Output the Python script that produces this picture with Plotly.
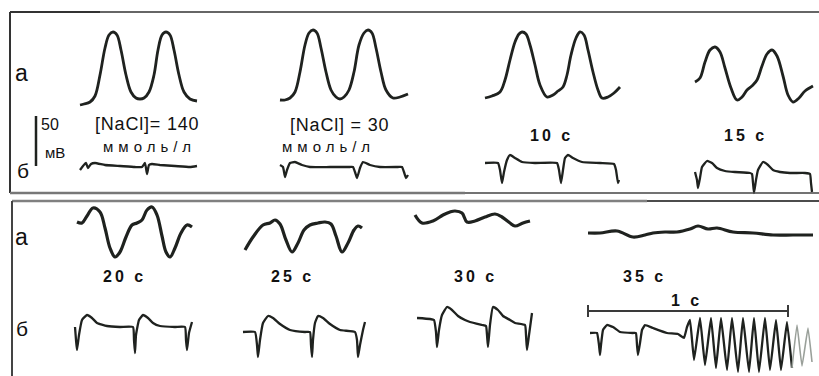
import plotly.graph_objects as go

# ---------------- data (time in ms, potential in mV) -------------
# row "а" (upper traces), top box
A_140_t = [0, 20, 50, 75, 100, 125, 145, 165, 185, 205, 230, 255, 280, 300, 320, 345, 370, 390, 410, 430, 450, 470, 495, 520, 550, 585]
A_140_v = [-5, -4, -2, 4, 25, 52, 65, 68, 65, 50, 25, 8, 2, 1, 2, 8, 25, 50, 65, 68, 65, 50, 25, 8, 1, -1]
A_30_t = [0, 25, 50, 75, 100, 125, 145, 165, 185, 205, 230, 255, 280, 300, 320, 345, 370, 395, 420, 440, 460, 480, 505, 530, 565, 600, 640]
A_30_v = [0, 0, 2, 8, 28, 55, 67, 70, 67, 52, 28, 10, 3, 1, 3, 10, 28, 55, 67, 70, 67, 52, 28, 10, 2, 3, 6]
A_10_t = [0, 35, 75, 100, 125, 150, 170, 185, 205, 225, 250, 275, 310, 340, 365, 390, 410, 430, 455, 475, 495, 515, 540, 565, 585, 615, 645, 675]
A_10_v = [2, 4, 8, 20, 40, 58, 66, 68, 66, 55, 35, 15, 3, 5, 9, 13, 25, 45, 62, 68, 65, 50, 28, 10, 2, 3, 7, 13]
A_15_t = [0, 25, 50, 75, 100, 125, 150, 180, 210, 235, 260, 290, 310, 335, 360, 385, 410, 440, 465, 490, 520, 550, 590]
A_15_v = [18, 22, 38, 50, 53, 48, 32, 12, 0, 3, 10, 15, 20, 34, 46, 50, 44, 24, 5, -2, 2, 9, 14]

# row "б" (lower traces), top box
B_140_t = [0, 15, 30, 40, 55, 75, 125, 200, 275, 310, 325, 335, 345, 360, 400, 475, 550, 585]
B_140_v = [-3, 1, 4, -1, 3, 4, 2, 1, 0, 0, 4, -7, 2, 3, 2, 1, 0, 1]
B_30_t = [0, 15, 25, 35, 50, 75, 110, 150, 250, 350, 365, 375, 385, 400, 415, 450, 500, 590, 610, 620, 630, 640]
B_30_v = [2, 0, -10, -3, 4, 5, 2, 0, 0, 0, 0, -5, -11, -1, 5, 2, 0, 0, 0, -5, -11, -8]
B_10_t = [0, 65, 75, 85, 95, 110, 125, 150, 185, 250, 360, 370, 380, 390, 400, 415, 440, 485, 575, 645, 655, 665, 670]
B_10_v = [0, 0, -7, -20, -9, 3, 8, 5, 1, 0, 0, -7, -20, -7, 5, 8, 5, 1, 0, -1, -7, -20, -17]
B_15_t = [0, 10, 15, 25, 35, 60, 85, 110, 150, 200, 275, 285, 290, 295, 305, 315, 340, 365, 390, 425, 475, 550, 575, 580, 585]
B_15_v = [0, -8, -16, -6, 5, 11, 9, 4, 1, 0, -1, -2, -11, -21, -8, 2, 10, 7, 2, 0, -1, -1, -2, -11, -20]

# row "а", bottom box
C_20_t = [0, 25, 50, 80, 115, 140, 165, 190, 215, 245, 275, 300, 325, 350, 375, 400, 425, 445, 465, 490, 520, 550, 575]
C_20_v = [8, 7, 14, 22, 18, 2, -18, -27, -22, -7, 5, 7, 10, 20, 23, 15, -6, -22, -27, -18, -3, 5, 3]
C_25_t = [0, 40, 90, 125, 150, 175, 205, 235, 265, 295, 325, 365, 400, 430, 455, 485, 515, 545, 565, 585]
C_25_v = [-20, -7, 5, 7, 10, 6, -10, -22, -13, 0, 5, 7, 8, 6, -6, -22, -13, 0, 4, 2]
C_30_t = [0, 35, 90, 140, 175, 200, 235, 260, 300, 350, 400, 435, 475, 500, 540, 575]
C_30_v = [15, 7, 9, 15, 18, 19, 17, 8, 9, 13, 16, 13, 7, 4, 7, 9]
C_35_t = [0, 60, 145, 225, 285, 325, 385, 445, 510, 550, 600, 645, 725, 825, 925, 1025, 1125]
C_35_v = [-3, -3, -1, -7, -5, -3, -2, -2, 1, 4, 1, 2, -2, -3, -5, -5, -5]

# row "б", bottom box
D_20_t = [0, 5, 10, 20, 35, 60, 85, 110, 160, 225, 290, 295, 300, 305, 320, 340, 365, 390, 425, 500, 550, 555, 560, 570, 585]
D_20_v = [0, -13, -23, -8, 7, 12, 9, 4, 1, 0, 0, -13, -26, -8, 7, 12, 9, 4, 1, 0, 0, -13, -23, -6, 5]
D_25_t = [0, 60, 70, 75, 85, 100, 125, 150, 185, 235, 310, 335, 340, 345, 350, 360, 375, 400, 435, 485, 560, 570, 575, 585, 600, 610]
D_25_v = [-5, -5, -18, -30, -13, 4, 11, 9, 3, -3, -5, -5, -18, -30, -13, 4, 11, 9, 3, -3, -5, -13, -30, -18, -3, 5]
D_30_t = [0, 65, 85, 95, 100, 110, 125, 150, 175, 205, 240, 265, 325, 345, 350, 355, 365, 380, 405, 430, 465, 490, 540, 545, 550, 560, 575]
D_30_v = [9, 8, 7, -5, -20, -3, 12, 20, 17, 11, 7, 5, 2, 1, -8, -20, 2, 20, 17, 11, 7, 4, 2, -8, -23, -8, 14]
D_35_t = [0, 35, 45, 50, 55, 65, 85, 115, 150, 215, 230, 235, 240, 250, 260, 275, 315, 385, 440, 470, 485,
          500, 520, 550, 575, 605, 630, 655, 685, 710, 740, 765, 795, 820, 845, 875, 900, 930, 955,
          985, 1010, 1035, 1060, 1090, 1110]
D_35_v = [-6, -6, -18, -28, -18, -3, 2, 0, -5, -6, -6, -18, -28, -16, -3, 2, -1, -6, -7, -11, 0,
          7, -33, 9, -38, 9, -41, 9, -43, 9, -45, 9, -45, 9, -45, 9, -43, 7, -43,
          5, -41, 2, -39, -1, -35]
D_35_FADE_MS = 1010         # the fibrillation trace fades out after this time

# scale bars
SCALE_MV = 50
SCALE_MS = 1000

# texts
ROW_LABELS = ["а", "б"]
CONC_LABELS = ["[NaCl]= 140", "[NaCl] = 30"]
UNIT_LABEL = "ммоль/л"
TIME_LABELS_TOP = ["10 с", "15 с"]
TIME_LABELS_BOTTOM = ["20 с", "25 с", "30 с", "35 с"]
SCALE_MV_LABEL = ["50", "мВ"]
SCALE_MS_LABEL = "1 с"

# ---------------- layout / style -------------
W, H = 819, 376
PX_PER_MS = 0.2
PX_PER_MV = 1.0
INK = "#1f221f"
FONT = "Liberation Sans, Arial, sans-serif"

ORIG = {
    "A_140": (80, 100), "A_30": (280, 100), "A_10": (485, 100), "A_15": (695, 100),
    "B_140": (80, 167), "B_30": (280, 167), "B_10": (485, 163), "B_15": (695, 172),
    "C_20": (77, 230), "C_25": (245, 230), "C_30": (415, 230), "C_35": (588, 230),
    "D_20": (75, 327), "D_25": (243, 327), "D_30": (417, 327), "D_35": (590, 327),
}


def place(t, v, key):
    x0, y0 = ORIG[key]
    return [x0 + ti * PX_PER_MS for ti in t], [y0 - vi * PX_PER_MV for vi in v]


fig = go.Figure()


def add(t, v, key, width=2.6, smoothing=0.9, color=INK):
    x, y = place(t, v, key)
    fig.add_trace(go.Scatter(
        x=x, y=y, mode="lines", hoverinfo="skip", showlegend=False,
        line=dict(color=color, width=width, shape="spline", smoothing=smoothing)))


for key, (t, v) in {"A_140": (A_140_t, A_140_v), "A_30": (A_30_t, A_30_v),
                    "A_10": (A_10_t, A_10_v), "A_15": (A_15_t, A_15_v)}.items():
    add(t, v, key, width=2.8, smoothing=1.0)
for key, (t, v) in {"C_20": (C_20_t, C_20_v), "C_25": (C_25_t, C_25_v),
                    "C_30": (C_30_t, C_30_v), "C_35": (C_35_t, C_35_v)}.items():
    add(t, v, key, width=3.2, smoothing=1.0)

for key, (t, v) in {"B_140": (B_140_t, B_140_v), "B_30": (B_30_t, B_30_v),
                    "B_10": (B_10_t, B_10_v), "B_15": (B_15_t, B_15_v),
                    "D_20": (D_20_t, D_20_v), "D_25": (D_25_t, D_25_v),
                    "D_30": (D_30_t, D_30_v)}.items():
    add(t, v, key, width=2.3, smoothing=0.4)

# 35 s lower trace: dark part, then faded tail
dark = [(ti, vi) for ti, vi in zip(D_35_t, D_35_v) if ti <= D_35_FADE_MS]
fade = [(ti, vi) for ti, vi in zip(D_35_t, D_35_v) if ti >= D_35_FADE_MS]
add([p[0] for p in dark], [p[1] for p in dark], "D_35", width=2.3, smoothing=0.3)
add([p[0] for p in fade], [p[1] for p in fade], "D_35", width=1.6, smoothing=0.3, color="#9aa09a")

# 50 mV vertical scale bar (top box)
MV_BAR_X, MV_BAR_Y = 36, 166
fig.add_trace(go.Scatter(x=[MV_BAR_X, MV_BAR_X], y=[MV_BAR_Y, MV_BAR_Y - SCALE_MV * PX_PER_MV],
                         mode="lines", hoverinfo="skip", showlegend=False,
                         line=dict(color=INK, width=2.5)))

# 1 s horizontal scale bar (bottom box)
MS_BAR_X, MS_BAR_Y = 588, 311
xe = MS_BAR_X + SCALE_MS * PX_PER_MS
fig.add_trace(go.Scatter(
    x=[MS_BAR_X, MS_BAR_X, None, MS_BAR_X, xe, None, xe, xe],
    y=[MS_BAR_Y - 6, MS_BAR_Y + 6, None, MS_BAR_Y, MS_BAR_Y, None, MS_BAR_Y - 6, MS_BAR_Y + 6],
    mode="lines", hoverinfo="skip", showlegend=False, line=dict(color="#3a3a3a", width=2)))

# ---------------- frames -------------
shapes = [
    dict(type="line", x0=10, x1=10, y0=12, y1=193, line=dict(color="#333", width=2)),
    dict(type="line", x0=10, x1=100, y0=12, y1=12, line=dict(color="#333", width=2)),
    dict(type="line", x0=100, x1=819, y0=12, y1=12, line=dict(color="#666", width=2)),
    dict(type="line", x0=10, x1=465, y0=193, y1=193, line=dict(color="#777", width=2.5)),
    dict(type="line", x0=465, x1=819, y0=193, y1=193, line=dict(color="#444", width=1.5)),
    dict(type="line", x0=12, x1=647, y0=201, y1=201, line=dict(color="#808080", width=2.5)),
    dict(type="line", x0=647, x1=819, y0=201, y1=201, line=dict(color="#111", width=1.5)),
    dict(type="line", x0=12, x1=12, y0=201, y1=376, line=dict(color="#444", width=2)),
]

# ---------------- texts -------------
ann = []


def txt(x, y, s, size, bold=False, spacing=0, color="#111"):
    if spacing:
        s = f'<span style="letter-spacing:{spacing}px">{s}</span>'
    if bold:
        s = f"<b>{s}</b>"
    ann.append(dict(x=x, y=y, xref="x", yref="y", text=s, showarrow=False,
                    xanchor="center", yanchor="middle",
                    font=dict(family=FONT, size=size, color=color)))


txt(21, 73, ROW_LABELS[0], 23)
txt(23, 170, ROW_LABELS[1], 21)
txt(21, 237, ROW_LABELS[0], 23)
txt(22, 328, ROW_LABELS[1], 21)

txt(50, 124, SCALE_MV_LABEL[0], 16)
txt(55, 152, SCALE_MV_LABEL[1], 15)

txt(147, 124, CONC_LABELS[0], 18, spacing=0.8)
txt(149, 146, UNIT_LABEL, 15, spacing=5)
txt(339, 125, CONC_LABELS[1], 18, spacing=0.8)
txt(328, 146, UNIT_LABEL, 15, spacing=5)

for x, s in zip([551, 745], TIME_LABELS_TOP):
    txt(x, 135, s, 16, bold=True, spacing=3)
for x, s in zip([124, 292, 475, 644], TIME_LABELS_BOTTOM):
    txt(x, 276, s, 16, bold=True, spacing=3)
txt(686, 300, SCALE_MS_LABEL, 16, bold=True, spacing=3)

fig.update_layout(
    width=W, height=H, margin=dict(l=0, r=0, t=0, b=0, pad=0),
    paper_bgcolor="white", plot_bgcolor="white",
    xaxis=dict(range=[0, W], visible=False, fixedrange=True),
    yaxis=dict(range=[H, 0], visible=False, fixedrange=True),
    shapes=shapes, annotations=ann, showlegend=False,
)

fig.write_html("out.html", config={"displayModeBar": False},
               post_script="document.body.style.margin='0';document.body.style.overflow='hidden';")
